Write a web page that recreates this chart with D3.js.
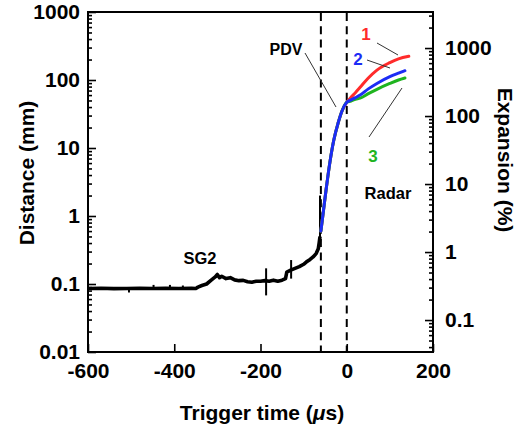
<!DOCTYPE html>
<html><head><meta charset="utf-8">
<script src="https://cdn.jsdelivr.net/npm/d3@7"></script>
<style>body{margin:0;background:#fff}svg{display:block}text{font-family:"Liberation Sans",Arial,Helvetica,sans-serif;font-weight:bold}</style>
</head><body>
<script>
// ---- data ----
const xTicks = [-600, -400, -200, 0, 200];
const xTickLabels = ["-600", "-400", "-200", "0", "200"];
const leftTicks = [0.01, 0.1, 1, 10, 100, 1000];
const leftTickLabels = ["0.01", "0.1", "1", "10", "100", "1000"];
const rightTicks = [0.1, 1, 10, 100, 1000];
const rightTickLabels = ["0.1", "1", "10", "100", "1000"];
const dashedTimes = [-60, 0];

// SG2 (black) trace
const sg2Time = [-600,-570,-540,-510,-480,-450,-420,-390,-360,-350,-345,-336,-325,-315,-305,-300,-295,-290,-280,-270,-260,-250,-240,-230,-220,-210,-200,-190,-180,-170,-160,-150,-142,-139,-130,-120,-110,-100,-94,-85,-78,-71,-66,-64,-62];
const sg2Value = [0.086,0.0865,0.0855,0.086,0.0865,0.0858,0.0862,0.0858,0.0865,0.086,0.09,0.095,0.10,0.113,0.127,0.138,0.124,0.13,0.12,0.124,0.115,0.112,0.113,0.108,0.106,0.11,0.11,0.112,0.11,0.114,0.11,0.114,0.12,0.15,0.16,0.17,0.18,0.195,0.21,0.23,0.25,0.28,0.33,0.40,0.5];
// SG2 noise spikes
const spikeTime = [-505, -448, -410, -380, -187, -129, -62];
const spikeLow  = [0.075, 0.086, 0.086, 0.086, 0.068, 0.12, 0.40];
const spikeHigh = [0.086, 0.097, 0.097, 0.095, 0.17, 0.225, 2.0];

// PDV + Radar curves
const redTime   = [-60,-55,-48,-39,-30,-20,-11,0,8,20,31,50,70,100,120,144];
const redValue  = [0.6,1.07,2.41,6.2,13.1,23.3,35,47,54,65,78,107,140,180,205,224];
const blueTime  = [-60,-55,-48,-39,-30,-20,-11,0,10,20,31,50,70,100,120,135];
const blueValue = [0.6,1.07,2.41,6.2,13.1,23.3,35,47,51,55,60,74,89,112,126,137];
const greenTime = [-60,-55,-48,-39,-30,-20,-11,0,10,20,31,50,70,100,120,135];
const greenValue= [0.6,1.07,2.41,6.2,13.1,23.3,35,47,49,52,54,63,73,89,100,107];

// ---- chart ----
const W = 521, H = 426;
const svg = d3.select("body").append("svg").attr("width", W).attr("height", H);
const x = d3.scaleLinear().domain([-600, 200]).range([88, 433]);
const y = d3.scaleLog().domain([0.01, 1000]).range([352, 12]);
const yR = d3.scaleLog().domain([Math.pow(10, -1.47), Math.pow(10, 3.53)]).range([352, 12]);

function minors(scale) {
  const [a, b] = scale.domain();
  const out = [];
  for (let e = Math.floor(Math.log10(a)); e <= Math.ceil(Math.log10(b)); e++) {
    for (let m = 2; m <= 9; m++) {
      const v = m * Math.pow(10, e);
      if (v >= a * 0.999 && v <= b * 1.001) out.push(v);
    }
  }
  return out;
}

const fs = 21;
// left axis
const gL = svg.append("g").attr("transform", "translate(88,0)");
gL.call(d3.axisLeft(y).tickValues(leftTicks).tickFormat((d, i) => leftTickLabels[i]).tickSize(-8).tickPadding(8));
gL.append("g").call(d3.axisLeft(y).tickValues(minors(y)).tickFormat("").tickSize(-4));
// right axis
const gR = svg.append("g").attr("transform", "translate(433,0)");
gR.call(d3.axisRight(yR).tickValues(rightTicks).tickFormat((d, i) => rightTickLabels[i]).tickSize(-8).tickPadding(12));
gR.append("g").call(d3.axisRight(yR).tickValues(minors(yR)).tickFormat("").tickSize(-4));
// bottom axis
const gB = svg.append("g").attr("transform", "translate(0,352)");
gB.call(d3.axisBottom(x).tickValues(xTicks).tickFormat((d, i) => xTickLabels[i]).tickSize(-8).tickPadding(11));

svg.selectAll(".domain").remove();
svg.selectAll(".tick line").attr("stroke", "#000").attr("stroke-width", 1.6);
svg.selectAll(".tick text").attr("font-size", fs).attr("font-family", '"Liberation Sans",Arial,sans-serif').attr("font-weight", "bold").attr("fill", "#000");

// frame
svg.append("rect").attr("x", 88).attr("y", 12).attr("width", 433 - 88).attr("height", 352 - 12)
  .attr("fill", "none").attr("stroke", "#000").attr("stroke-width", 2);

// dashed lines
svg.selectAll(".dash").data(dashedTimes).enter().append("line")
  .attr("x1", d => x(d)).attr("x2", d => x(d)).attr("y1", 13).attr("y2", 351)
  .attr("stroke", "#000").attr("stroke-width", 2).attr("stroke-dasharray", "8,5.3");

const line = d3.line().x(d => x(d[0])).y(d => y(d[1]));

// SG2
svg.append("path").attr("d", line(sg2Time.map((t, i) => [t, sg2Value[i]])))
  .attr("fill", "none").attr("stroke", "#000").attr("stroke-width", 3.6).attr("stroke-linejoin", "round");
svg.selectAll(".spike").data(spikeTime).enter().append("line")
  .attr("x1", d => x(d)).attr("x2", d => x(d))
  .attr("y1", (d, i) => y(spikeLow[i])).attr("y2", (d, i) => y(spikeHigh[i]))
  .attr("stroke", "#000").attr("stroke-width", 2);

// colored curves
const curves = [
  {t: redTime, v: redValue, c: "#ff2b2b"},
  {t: greenTime, v: greenValue, c: "#1fb41f"},
  {t: blueTime, v: blueValue, c: "#1c2cf5"}
];
curves.forEach(s => {
  svg.append("path").attr("d", d3.line().curve(d3.curveMonotoneX).x(d => x(d[0])).y(d => y(d[1]))(s.t.map((t, i) => [t, s.v[i]])))
    .attr("fill", "none").attr("stroke", s.c).attr("stroke-width", 3).attr("stroke-linecap", "round");
});

// leader lines
const leaders = [
  [305, 53, 336, 107],
  [377, 43, 398, 55],
  [367, 60, 390, 68],
  [369, 137, 402, 88]
];
svg.selectAll(".leader").data(leaders).enter().append("line")
  .attr("x1", d => d[0]).attr("y1", d => d[1]).attr("x2", d => d[2]).attr("y2", d => d[3])
  .attr("stroke", "#333").attr("stroke-width", 1);

// annotations
const ann = [
  {t: "PDV", x: 286, y: 49, c: "#000", s: 16},
  {t: "1", x: 366, y: 34, c: "#ff2b2b", s: 17},
  {t: "2", x: 358, y: 59, c: "#1c2cf5", s: 17},
  {t: "3", x: 373, y: 156, c: "#1fb41f", s: 17},
  {t: "Radar", x: 388, y: 193, c: "#000", s: 16.5},
  {t: "SG2", x: 200, y: 258, c: "#000", s: 16.5}
];
ann.forEach(a => {
  svg.append("text").attr("x", a.x).attr("y", a.y).attr("text-anchor", "middle")
    .attr("dominant-baseline", "central").attr("font-size", a.s).attr("fill", a.c).text(a.t);
});

// axis titles
const xt = svg.append("text").attr("x", 262).attr("y", 412).attr("text-anchor", "middle")
  .attr("dominant-baseline", "central").attr("font-size", 21);
xt.append("tspan").text("Trigger time (");
xt.append("tspan").attr("font-style", "italic").text("μ");
xt.append("tspan").text("s)");

svg.append("text").attr("transform", "translate(26,173) rotate(-90)").attr("text-anchor", "middle")
  .attr("dominant-baseline", "central").attr("font-size", 21).text("Distance (mm)");
svg.append("text").attr("transform", "translate(505,160) rotate(90)").attr("text-anchor", "middle")
  .attr("dominant-baseline", "central").attr("font-size", 21).text("Expansion (%)");
</script>
</body></html>
